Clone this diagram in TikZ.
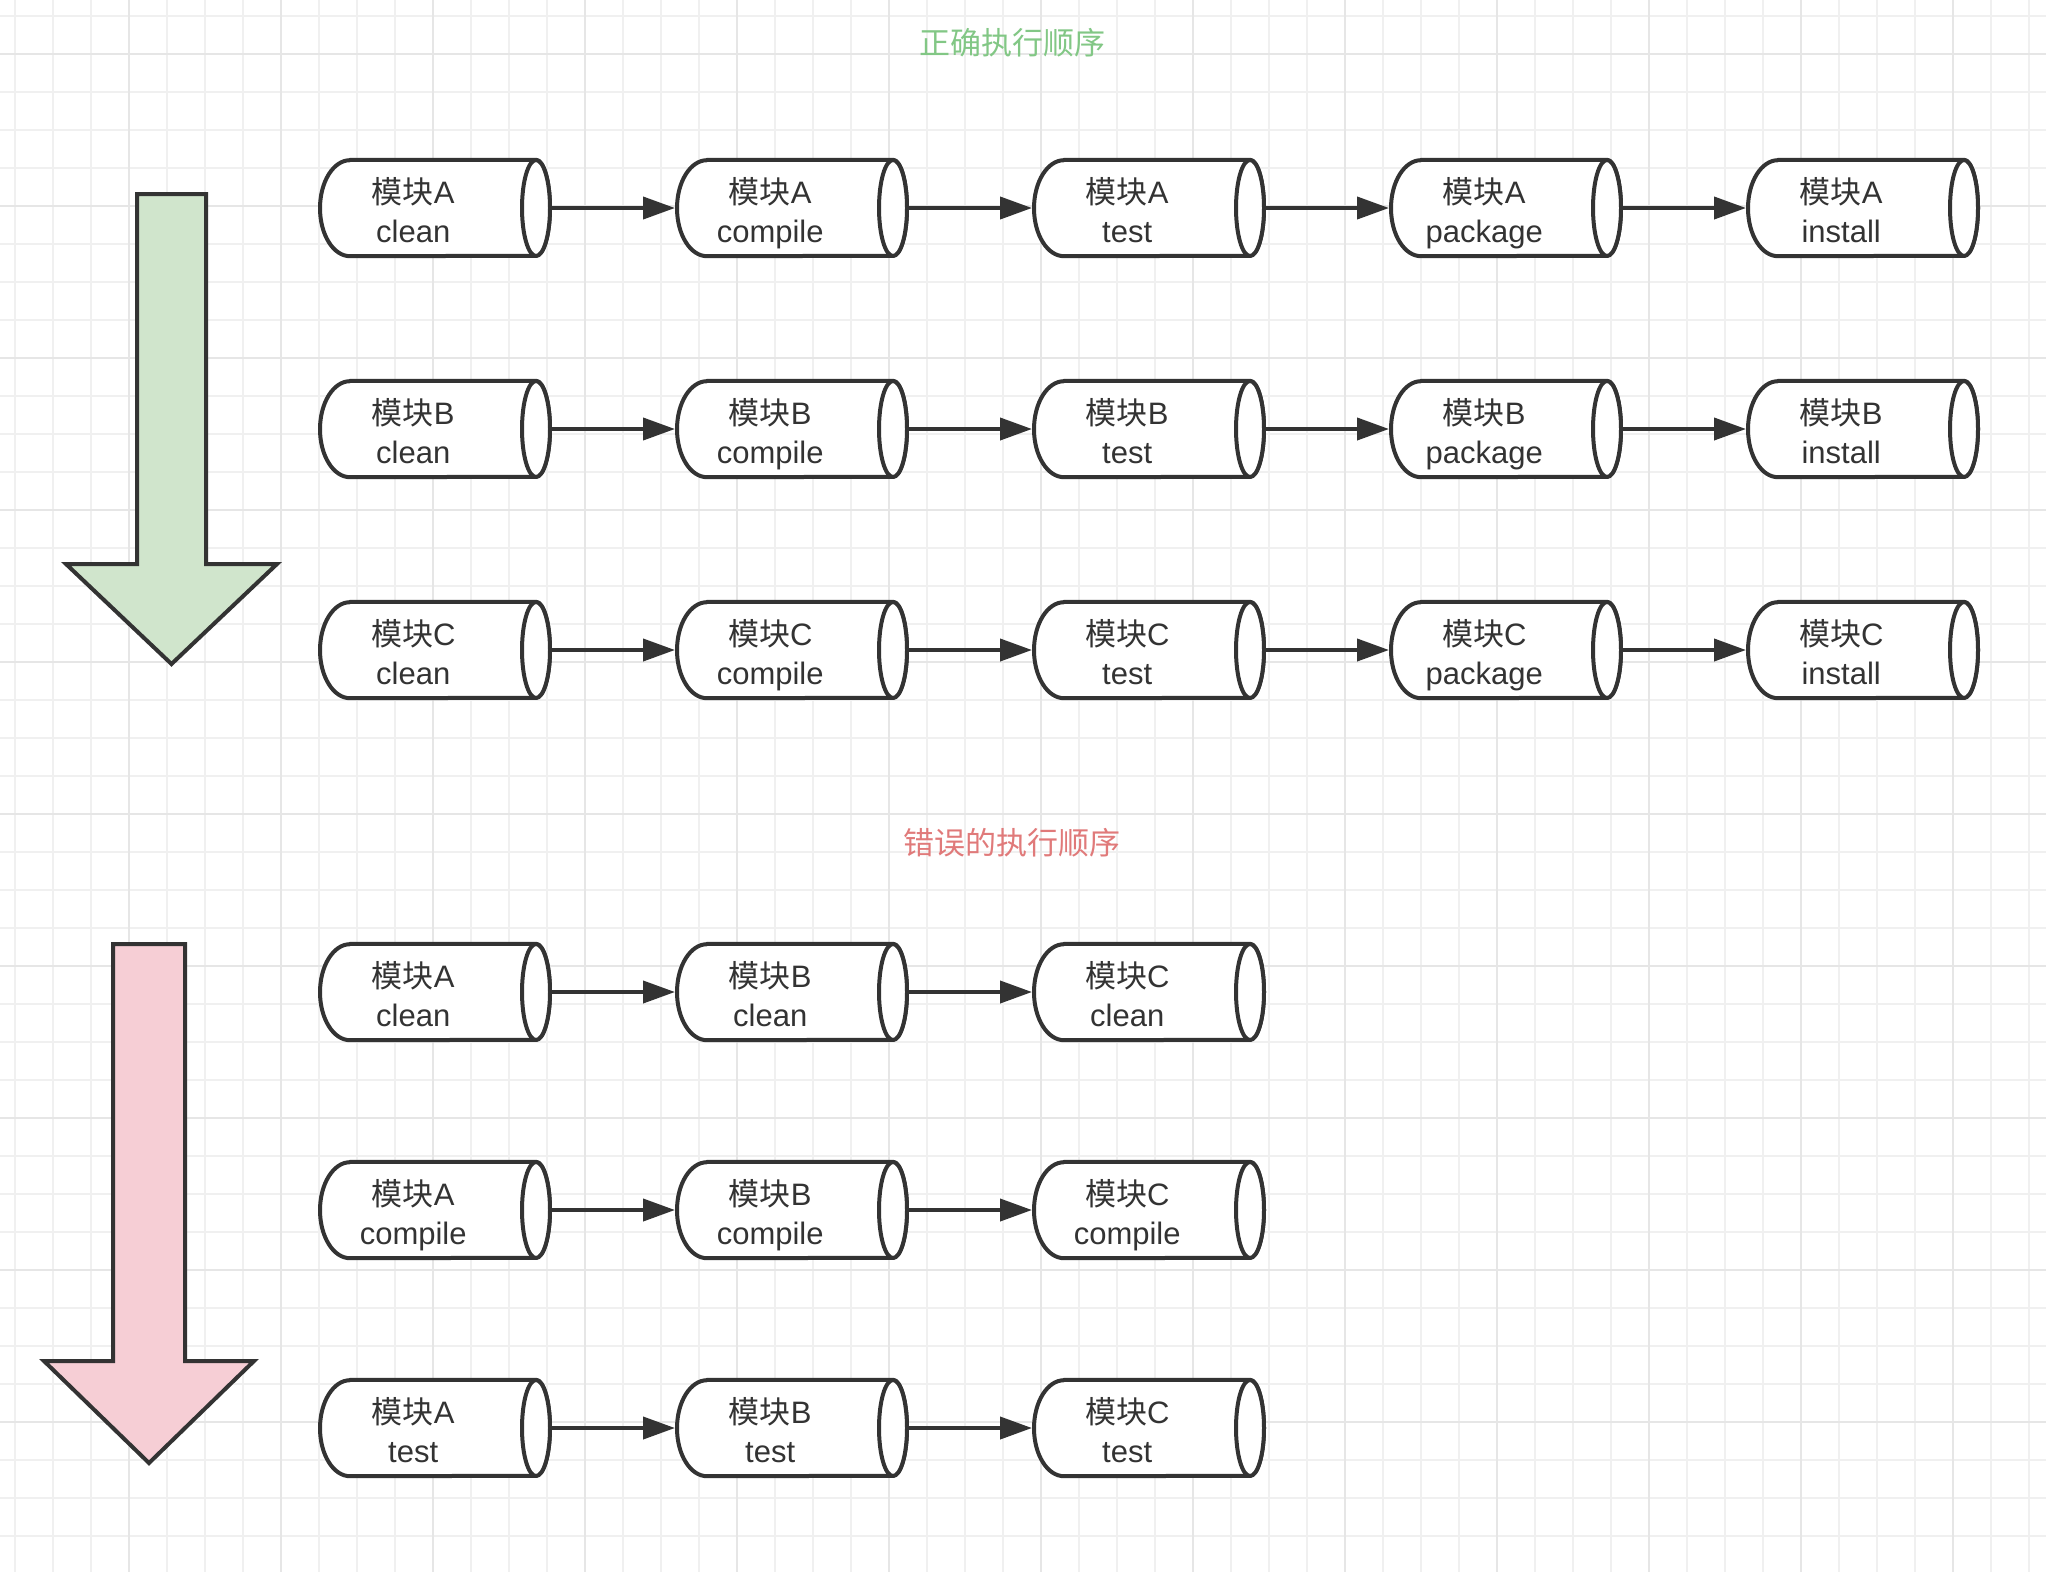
\documentclass[tikz,border=0pt]{standalone}
\usepackage{fontspec}
\setmainfont{Liberation Sans}
\newfontfamily\cjk{Noto Sans CJK SC}
\usetikzlibrary{arrows.meta}
\definecolor{mvnInk}{HTML}{333333}
\definecolor{mvnGreen}{HTML}{82C785}
\definecolor{mvnRed}{HTML}{E07A7A}
\definecolor{mvnGreenFill}{HTML}{D0E5CC}
\definecolor{mvnRedFill}{HTML}{F6CED5}
\definecolor{mvnGrid}{HTML}{F0F0F0}
\definecolor{mvnGridMajor}{HTML}{E6E6E6}
\pgfdeclarelayer{grid}
\pgfdeclarelayer{shapes}
\pgfsetlayers{grid,shapes,main}
\tikzset{
  every picture/.style={x=1pt, y=-1pt, text=mvnInk},
  mvn text/.style={anchor=west, inner sep=0pt, text width=186pt, align=center,
    text depth=36pt, minimum height=96pt, font=\fontsize{31}{39}\selectfont},
  mvn body/.style={draw=mvnInk, fill=white, line width=4pt, line join=round},
  mvn arrow/.style={-{Triangle[length=32pt,width=22pt]}, draw=mvnInk,
    line width=4pt},
  mvn block/.style={draw=mvnInk, line width=4pt, line join=miter},
  mvn title/.style={font=\cjk\fontsize{31}{37}\selectfont},
  grid minor/.style={draw=mvnGrid, line width=1.5pt},
  grid major/.style={draw=mvnGridMajor, line width=1.5pt}
}
% cylinder outline behind a module node
\newcommand{\mvnbody}[1]{%
  \begin{pgfonlayer}{shapes}
    \draw[mvn body] ([xshift=30pt]#1.north west) -- ([xshift=216pt]#1.north west)
      arc[start angle=90, end angle=-90, x radius=14pt, y radius=48pt]
      -- ([xshift=30pt]#1.south west)
      arc[start angle=270, end angle=90, x radius=30pt, y radius=48pt] -- cycle;
    \draw[mvn body] ([xshift=216pt]#1.west) ellipse[x radius=14pt, y radius=48pt];
  \end{pgfonlayer}}

\begin{document}
\begin{tikzpicture}
  \useasboundingbox (0,0) rectangle (2046,1572);
  \begin{pgfonlayer}{grid}
    \foreach \x in {15,53,...,2046} \draw[grid minor] (\x,0) -- (\x,1572);
    \foreach \y in {16,54,...,1572} \draw[grid minor] (0,\y) -- (2046,\y);
    \foreach \x in {129,281,...,2046} \draw[grid major] (\x,0) -- (\x,1572);
    \foreach \y in {54,206,...,1572} \draw[grid major] (0,\y) -- (2046,\y);
  \end{pgfonlayer}

  % correct order
  \node[mvn title, text=mvnGreen] (okTitle) at (1012,43) {正确执行顺序};
  \foreach \m/\y in {A/208,B/429,C/650}
    \foreach \p [count=\i from 0] in {clean,compile,test,package,install} {
      \node[mvn text] (ok\m\i) at (320+357*\i,\y) {{\cjk 模块}\m\\\p};
      \mvnbody{ok\m\i}
    }
  \foreach \m in {A,B,C}
    \foreach \i [remember=\i as \k (initially 0)] in {1,...,4}
      \draw[mvn arrow] ([xshift=46pt]ok\m\k.east) -- ([xshift=-2pt]ok\m\i.west);
  \draw[mvn block, fill=mvnGreenFill] (137,194) -- (206,194) -- (206,564)
    -- (277,564) -- (171.5,664) -- (66,564) -- (137,564) -- cycle;

  % wrong order
  \node[mvn title, text=mvnRed] (badTitle) at (1012,843) {错误的执行顺序};
  \foreach \p/\y in {clean/992,compile/1210,test/1428}
    \foreach \m [count=\i from 0] in {A,B,C} {
      \node[mvn text] (bad\p\i) at (320+357*\i,\y) {{\cjk 模块}\m\\\p};
      \mvnbody{bad\p\i}
    }
  \foreach \p in {clean,compile,test}
    \foreach \i [remember=\i as \k (initially 0)] in {1,2}
      \draw[mvn arrow] ([xshift=46pt]bad\p\k.east) -- ([xshift=-2pt]bad\p\i.west);
  \draw[mvn block, fill=mvnRedFill] (113,944) -- (185,944) -- (185,1361)
    -- (254,1361) -- (149,1463) -- (44,1361) -- (113,1361) -- cycle;
\end{tikzpicture}
\end{document}
